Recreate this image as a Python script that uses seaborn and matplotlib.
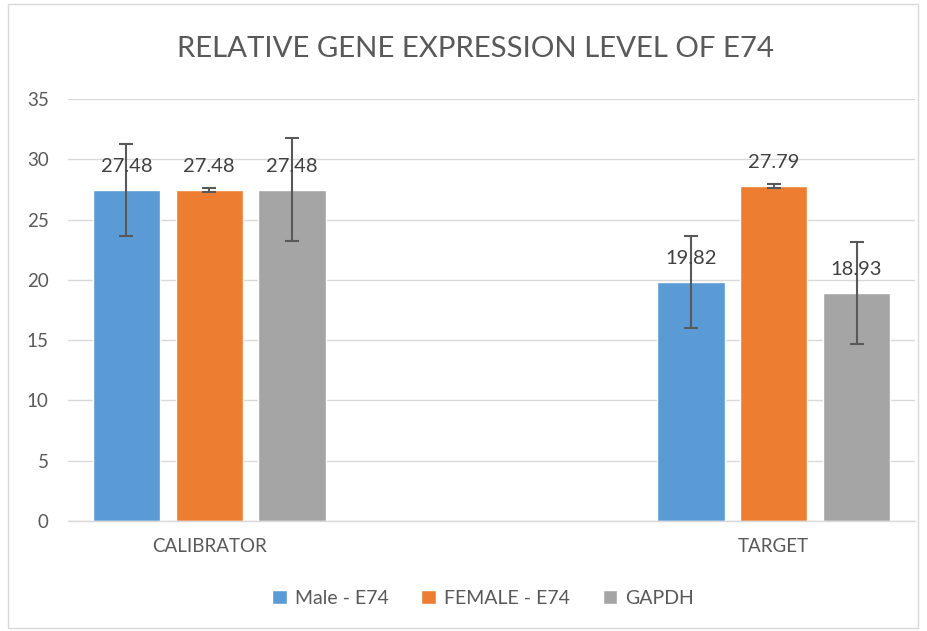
import matplotlib
matplotlib.use("Agg")
import matplotlib.pyplot as plt
import seaborn as sns
import pandas as pd
from matplotlib.patches import Rectangle

categories = ["CALIBRATOR", "TARGET"]
series = ["Male - E74", "FEMALE - E74", "GAPDH"]
male_vals = [27.48, 19.82]
female_vals = [27.48, 27.79]
gapdh_vals = [27.48, 18.93]
male_err = [3.8, 3.8]
female_err = [0.15, 0.15]
gapdh_err = [4.25, 4.25]
colors = ["#5B9BD5", "#ED7D31", "#A5A5A5"]

rows = []
for s, vals, errs in zip(series, [male_vals, female_vals, gapdh_vals], [male_err, female_err, gapdh_err]):
    for c, v, e in zip(categories, vals, errs):
        rows.append({"cat": c, "series": s, "value": v, "err": e})
df = pd.DataFrame(rows)

sns.set_theme(style="white")
plt.rcParams['font.family'] = ['Lato', 'DejaVu Sans']

fig = plt.figure(figsize=(9.27, 6.31), dpi=100)
ax = fig.add_axes([0.0734, 0.1743, 0.9136, 0.6687])

sns.barplot(data=df, x="cat", y="value", hue="series", order=categories,
            hue_order=series, palette=colors, width=0.44, gap=0.19,
            errorbar=None, ax=ax, saturation=1, legend=True)

# error bars and labels
for container, s in zip(ax.containers, series):
    sub = df[df.series == s].set_index("cat").loc[categories]
    xs = [p.get_x() + p.get_width() / 2 for p in container.patches]
    ax.errorbar(xs, sub["value"].values, yerr=sub["err"].values, fmt="none",
                ecolor="#595959", elinewidth=1.5, capsize=5, capthick=1.5, zorder=4)
    for x, v in zip(xs, sub["value"].values):
        ax.annotate(f"{v:.2f}", (x, v), xytext=(0, 17), textcoords="offset points",
                    ha="center", va="center", fontsize=14.5, color="#404040", zorder=5)

ax.set_xlim(-0.25, 1.25)
ax.set_ylim(0, 35)
ax.set_yticks(range(0, 36, 5))
ax.yaxis.grid(True, color="#D9D9D9", linewidth=1)
ax.set_axisbelow(True)
for sp in ["top", "right", "left"]:
    ax.spines[sp].set_visible(False)
ax.spines["bottom"].set_color("#D9D9D9")
ax.spines["bottom"].set_linewidth(1)
ax.tick_params(axis="both", length=0, labelsize=13.5, colors="#595959", pad=14)
ax.tick_params(axis="x", pad=12)
ax.set_xlabel("")
ax.set_ylabel("")

fig.text(0.513, 0.923, "RELATIVE GENE EXPRESSION LEVEL OF E74", ha="center", va="center",
         fontsize=21.2, color="#595959")

leg = ax.legend(loc="center", bbox_to_anchor=(0.521, 0.052), bbox_transform=fig.transFigure,
                ncol=3, frameon=False, fontsize=14, handlelength=0.75, handleheight=0.75,
                columnspacing=1.7, handletextpad=0.4)
for t in leg.get_texts():
    t.set_color("#595959")

fig.patches.append(Rectangle((8 / 927, 3 / 631), 910 / 927, 624 / 631, transform=fig.transFigure,
                             fill=False, edgecolor="#D9D9D9", linewidth=1))

fig.savefig("out.png", dpi=100)
